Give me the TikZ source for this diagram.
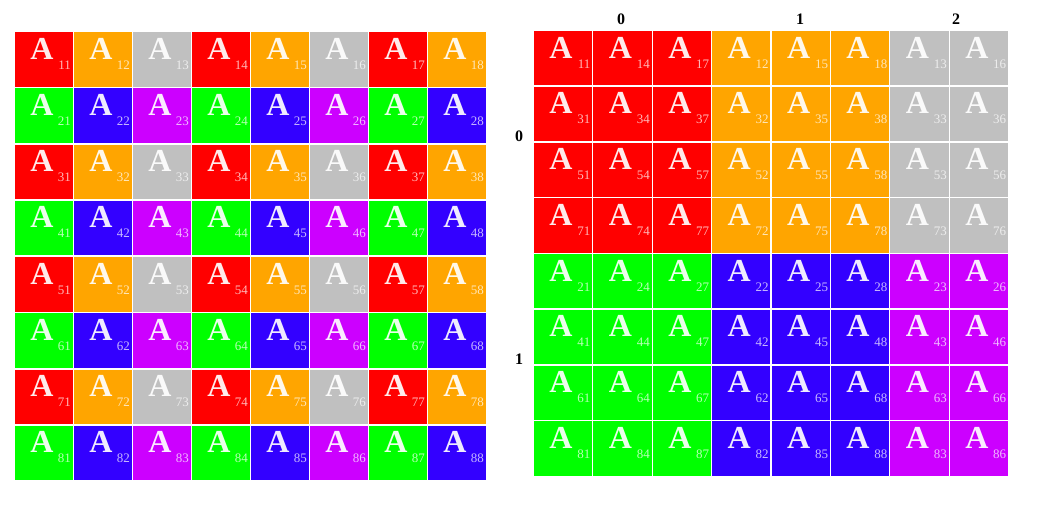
\documentclass[tikz,border=0pt]{standalone}
\usepackage{fontspec}
\setmainfont{Liberation Serif}
\definecolor{o1}{HTML}{FF0000}
\definecolor{o2}{HTML}{FFA500}
\definecolor{o0}{HTML}{C0C0C0}
\definecolor{e1}{HTML}{00FF00}
\definecolor{e2}{HTML}{3300FF}
\definecolor{e0}{HTML}{CC00FF}
\tikzset{
  cellbox/.style={draw=none, inner sep=0pt, outer sep=0pt, anchor=north west},
  bigA/.style={inner sep=0pt, font=\fontsize{32}{32}\selectfont\bfseries, anchor=base},
  subidx/.style={inner sep=0pt, font=\fontsize{13}{13}\selectfont, anchor=base east},
  hdr/.style={inner sep=0pt, font=\fontsize{16}{16}\selectfont\bfseries}
}
\newcommand\drawcell[7]{%
  \node[cellbox, fill=#6, minimum width=#4pt, minimum height=#5pt] (#1) at (#2,#3) {};
  \node[bigA, text=white!92!#6] (#1a) at ([xshift=27pt,yshift=-27pt]#1.north west) {A};
  \node[subidx, text=white!72!#6] (#1s) at ([xshift=-1.5pt,yshift=-37pt]#1.north east) {#7};
}
\begin{document}
\begin{tikzpicture}[x=1pt,y=-1pt]
\fill[white] (0,0) rectangle (1037,504);
\useasboundingbox (0,0) rectangle (1037,504);
% left grid
\foreach \r in {1,...,8}{\foreach \c in {1,...,8}{
  \pgfmathtruncatemacro\m{mod(\c,3)}
  \ifodd\r \edef\cc{o\m}\else\edef\cc{e\m}\fi
  \pgfmathsetmacro\xx{15+(\c-1)*59}
  \pgfmathsetmacro\yy{32+(\r-1)*56.25}
  \edef\tmp{\noexpand\drawcell{L\r\c}{\xx}{\yy}{57.6}{54.6}{\cc}{\r\c}}\tmp
}}
% right grid
\foreach \k/\oc in {1/1,2/4,3/7,4/2,5/5,6/8,7/3,8/6}{
 \foreach \q/\orow in {1/1,2/3,3/5,4/7,5/2,6/4,7/6,8/8}{
  \pgfmathtruncatemacro\m{mod(\oc,3)}
  \ifodd\orow \edef\cc{o\m}\else\edef\cc{e\m}\fi
  \pgfmathsetmacro\xx{534+(\k-1)*59.4}
  \pgfmathsetmacro\yy{31+(\q-1)*55.75}
  \edef\tmp{\noexpand\drawcell{R\orow\oc}{\xx}{\yy}{58.1}{54.3}{\cc}{\orow\oc}}\tmp
}}
% headers
\node[hdr] (h0) at (621,19.5) {0};
\node[hdr] (h1) at (800,19.5) {1};
\node[hdr] (h2) at (956,19.5) {2};
\node[hdr] (r0) at (519,136) {0};
\node[hdr] (r1) at (519,359.5) {1};
\end{tikzpicture}
\end{document}
